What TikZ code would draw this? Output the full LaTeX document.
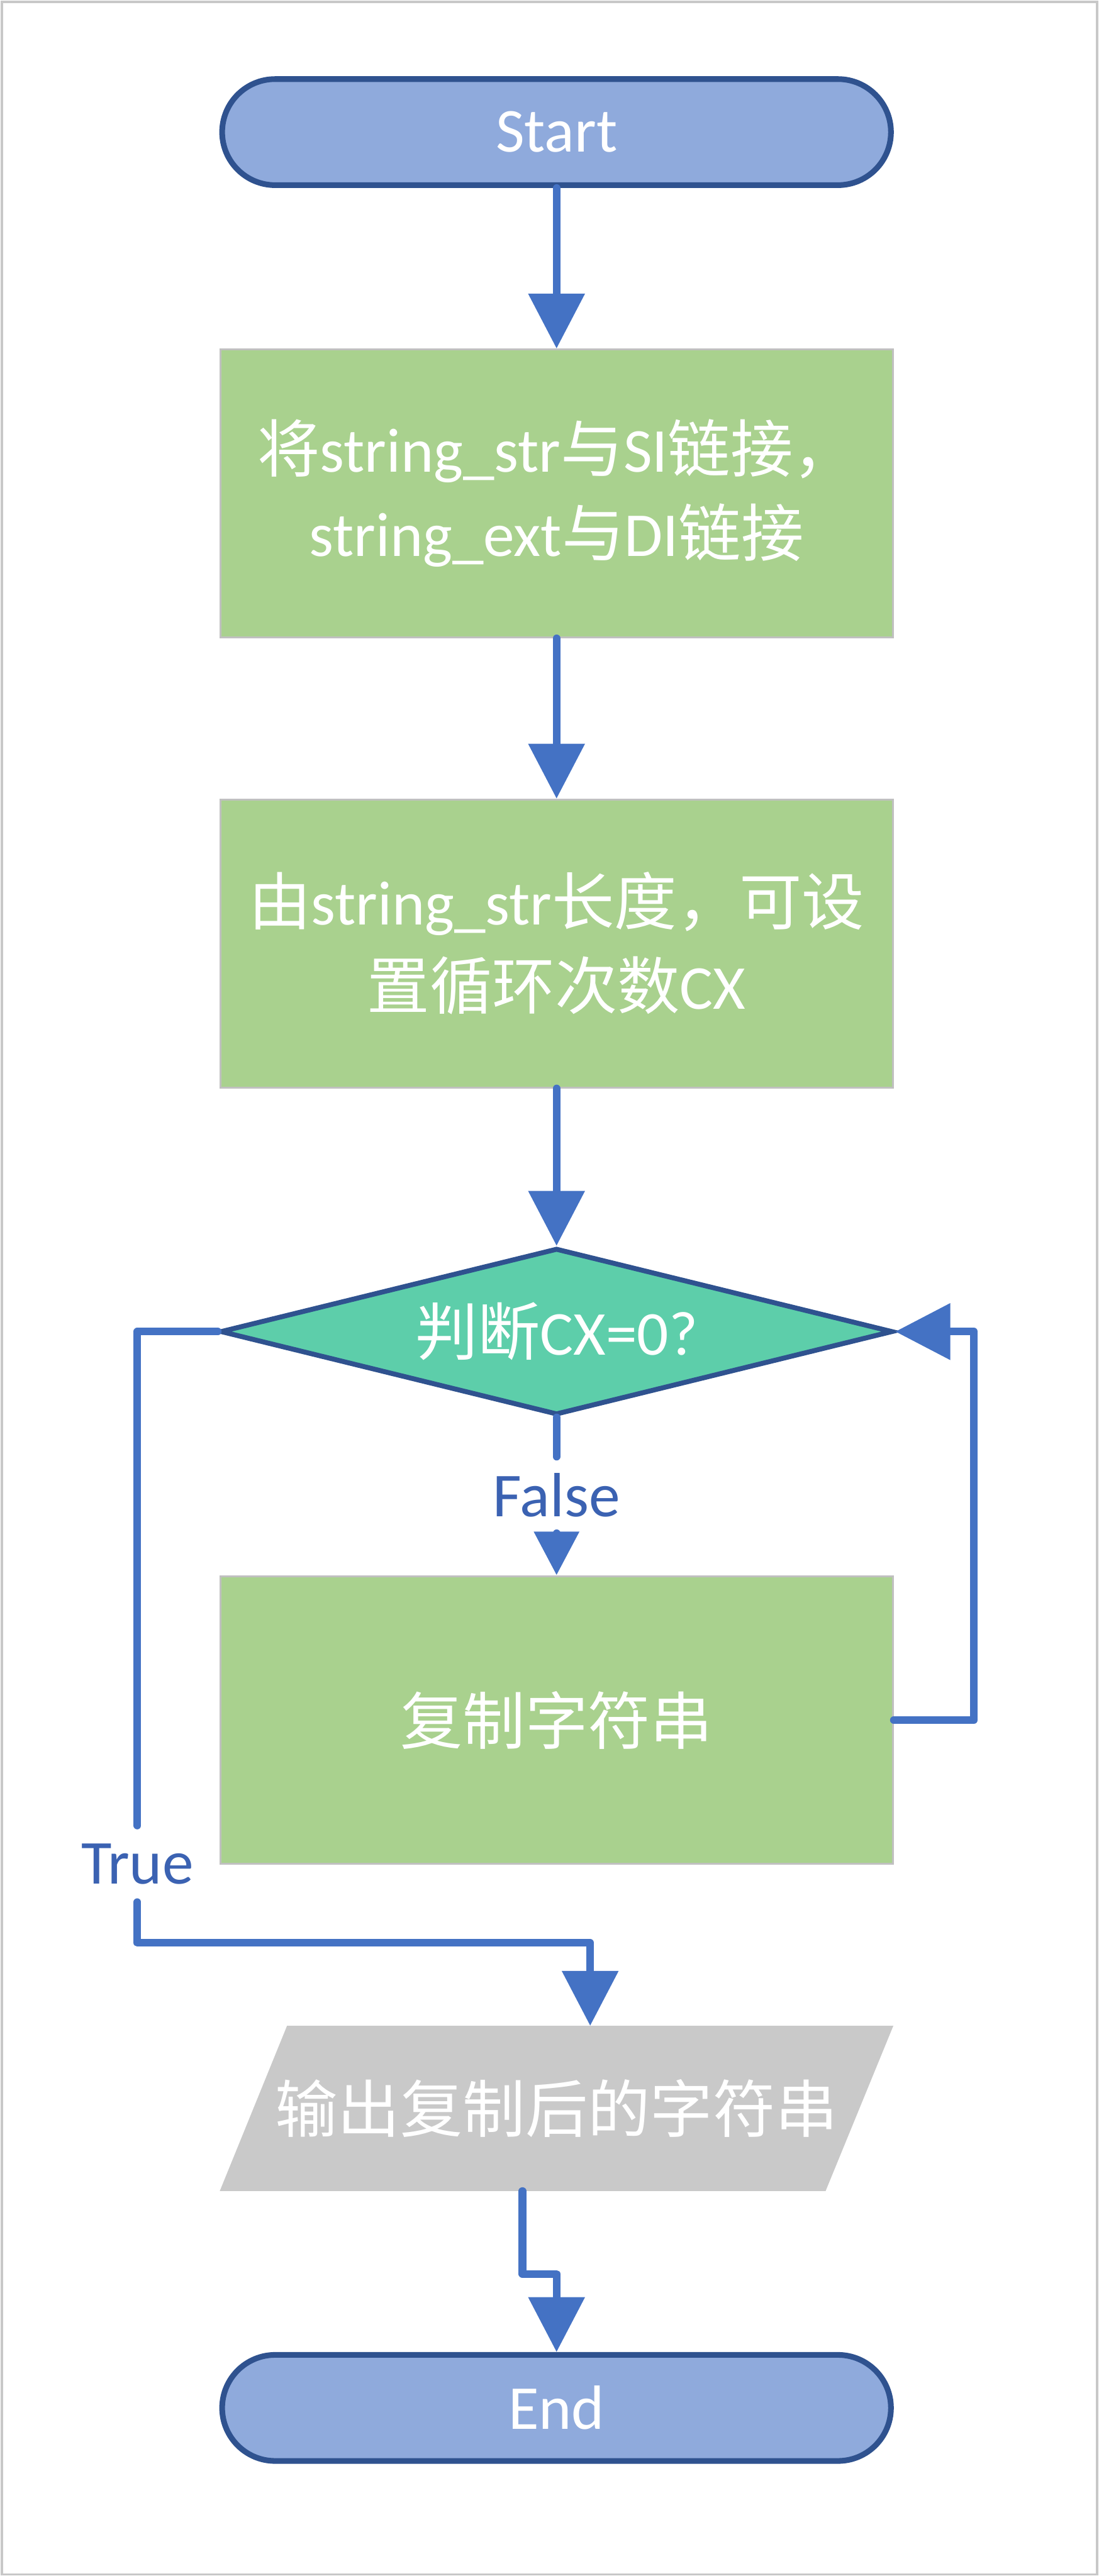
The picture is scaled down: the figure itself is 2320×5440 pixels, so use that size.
\documentclass[tikz,border=0pt]{standalone}
\usepackage{fontspec}
\setmainfont{Carlito}
\newfontfamily\cjk{Noto Sans CJK SC}
\usetikzlibrary{arrows.meta,shapes.misc,shapes.geometric}
\definecolor{termfill}{HTML}{8FAADC}
\definecolor{termdraw}{HTML}{2F528F}
\definecolor{procfill}{HTML}{A9D18E}
\definecolor{procdraw}{HTML}{C0C0C0}
\definecolor{decfill}{HTML}{5DCEAA}
\definecolor{linec}{HTML}{4472C4}
\definecolor{labc}{HTML}{3B62B2}
\definecolor{iofill}{HTML}{C9C9C9}
\definecolor{framec}{HTML}{C8C8C8}
\begin{document}
\begin{tikzpicture}[x=0.25pt,y=-0.25pt,
  every node/.style={font=\fontsize{33}{44.5}\selectfont, text=white, inner sep=0pt},
  term/.style={rounded rectangle, fill=termfill, draw=termdraw, line width=3pt, minimum width=353pt, minimum height=56pt},
  proc/.style={rectangle, fill=procfill, draw=procdraw, line width=1pt, minimum width=355pt, minimum height=152pt, align=center},
  dec/.style={diamond, aspect=4, fill=decfill, draw=termdraw, line width=2.6pt, minimum width=355pt, minimum height=88pt},
  lab/.style={text=labc, minimum height=40pt},
  conn/.style={draw=linec, line width=4pt, line cap=round, line join=round},
  arr/.style={conn, -{Triangle[length=29pt,width=29pt]}},
  arrs/.style={conn, -{Triangle[length=23pt,width=23pt]}},
]
\useasboundingbox (0,0) rectangle (2320,5440);
\draw[framec, line width=1.25pt] (3.5,3.5) rectangle (2316.5,5436.5);

\node[term] (start) at (1175,279) {Start};
\node[proc] (p1) at (1175,1042) {{\cjk 将}string\_str{\cjk 与}SI{\cjk 链接，}\\string\_ext{\cjk 与}DI{\cjk 链接}};
\node[proc] (p2) at (1175,1992.5) {{\cjk 由}string\_str{\cjk 长度，可设}\\{\cjk 置循环次数}CX};
\node[dec] (dec) at (1175,2812) {{\cjk 判断}CX=0?};
\node[lab] (flab) at (1175,3157) {False};
\node[proc] (p3) at (1175,3632.5) {{\cjk 复制字符串}};
\node[lab] (tlab) at (290,3936) {True};
\fill[iofill] (606,4278) -- (1886,4278) -- (1743,4627) -- (464,4627) -- cycle;
\node (io) at (1175,4452) {{\cjk 输出复制后的字符串}};
\coordinate (iotop) at (1246,4278);
\coordinate (iobot) at (1103,4627);
\node[term] (end) at (1175,5085) {End};

\draw[arr] (start.south) -- (p1.north);
\draw[arr] (p1.south) -- (p2.north);
\draw[arr] (p2.south) -- (dec.north);
\draw[conn] (dec.south) -- (flab.north);
\draw[arrs] (flab.south) -- (p3.north);
\coordinate (loopr) at (2056,2812);
\draw[arr] (p3.east) -| (loopr) -- (dec.east);
\draw[conn] (dec.west) -| (tlab.north);
\coordinate (tbend) at (1246,4103);
\draw[arr] (tlab.south) |- (tbend) -- (iotop);
\coordinate (pbend) at (1175,4802);
\draw[arr] (iobot) |- (pbend) -- (end.north);
\end{tikzpicture}
\end{document}
